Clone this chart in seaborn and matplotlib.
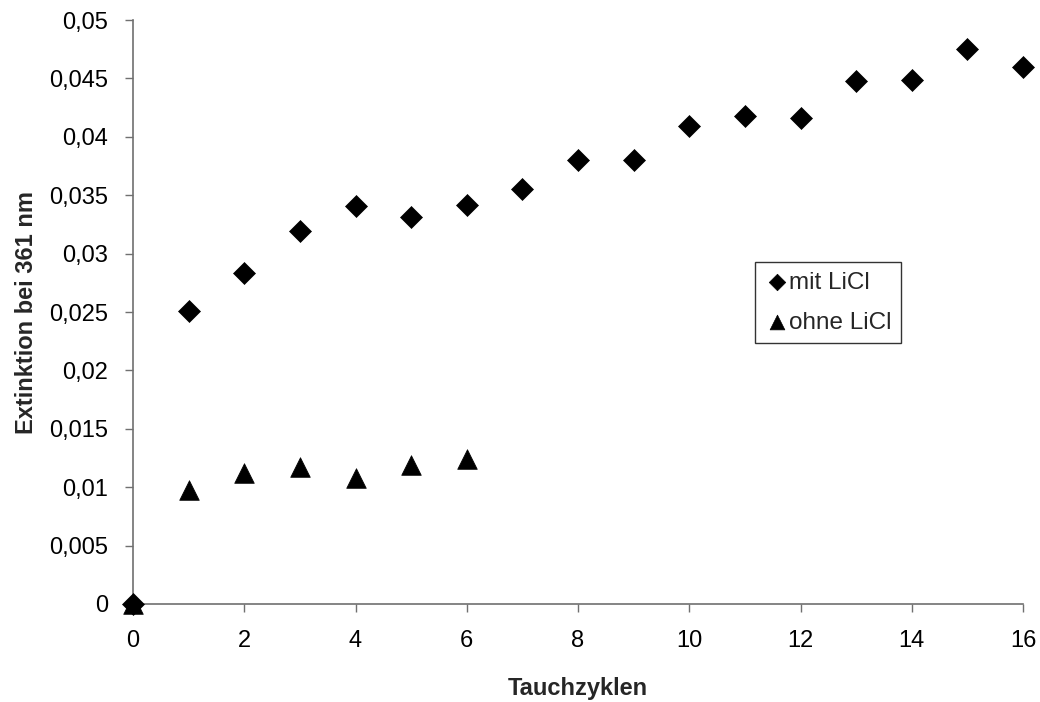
import matplotlib
matplotlib.use("Agg")
import matplotlib.pyplot as plt
import matplotlib.ticker as mticker
import seaborn as sns
import pandas as pd

# Tauchzyklen vs. Extinktion bei 361 nm
zyklen_mit = [0, 1, 2, 3, 4, 5, 6, 7, 8, 9, 10, 11, 12, 13, 14, 15, 16]
ext_mit = [0.0, 0.0251, 0.0283, 0.0319, 0.0341, 0.0331, 0.0342, 0.0355,
           0.0380, 0.0380, 0.0409, 0.0418, 0.0416, 0.0448, 0.0449, 0.0475, 0.0460]

zyklen_ohne = [0, 1, 2, 3, 4, 5, 6]
ext_ohne = [0.0, 0.0098, 0.0112, 0.0117, 0.0108, 0.0119, 0.0124]

labels = ["mit LiCl", "ohne LiCl"]

sns.set_theme(style="white")
plt.rcParams["font.family"] = ["Liberation Sans", "DejaVu Sans"]

fig = plt.figure(figsize=(10.4, 7.02), dpi=100)
ax = fig.add_axes([133 / 1040, 1 - 604 / 702, 890 / 1040, 584 / 702])

df_mit = pd.DataFrame({"x": zyklen_mit, "y": ext_mit})
df_ohne = pd.DataFrame({"x": zyklen_ohne, "y": ext_ohne})

sns.scatterplot(data=df_mit, x="x", y="y", ax=ax, marker="D", s=125,
                color="black", edgecolor="black", linewidth=0.5,
                label=labels[0], clip_on=False, zorder=3)
sns.scatterplot(data=df_ohne, x="x", y="y", ax=ax, marker="^", s=200,
                color="black", edgecolor="black", linewidth=0.5,
                label=labels[1], clip_on=False, zorder=4)

ax.set_xlim(0, 16)
ax.set_ylim(0, 0.05)
ax.xaxis.set_major_locator(mticker.MultipleLocator(2))
ax.yaxis.set_major_locator(mticker.MultipleLocator(0.005))


def comma_fmt(v, pos):
    s = ("%.3f" % v).rstrip("0").rstrip(".")
    return s.replace(".", ",")


ax.yaxis.set_major_formatter(mticker.FuncFormatter(comma_fmt))

for side in ["top", "right"]:
    ax.spines[side].set_visible(False)
for side in ["left", "bottom"]:
    ax.spines[side].set_color("#707070")
    ax.spines[side].set_linewidth(1.2)

ax.tick_params(axis="both", which="major", direction="out", length=6,
               width=1.0, color="#707070", labelsize=17, labelcolor="black",
               bottom=True, left=True, top=False, right=False)
ax.tick_params(axis="y", pad=12)
ax.tick_params(axis="x", pad=13)
ax.grid(False)

ax.set_xlabel("Tauchzyklen", fontsize=17, fontweight="bold", labelpad=18)
ax.set_ylabel("Extinktion bei 361 nm", fontsize=17, fontweight="bold", labelpad=8)

leg = ax.legend(loc="upper left", bbox_to_anchor=(0.699, 0.586),
                frameon=True, fontsize=17.5, fancybox=False, markerscale=0.75,
                handletextpad=0.0, handlelength=1.0, borderpad=0.4,
                labelspacing=0.75, borderaxespad=0)
leg.get_frame().set_edgecolor("black")
leg.get_frame().set_linewidth(1.0)

fig.savefig("out.png", dpi=100, facecolor="white")
